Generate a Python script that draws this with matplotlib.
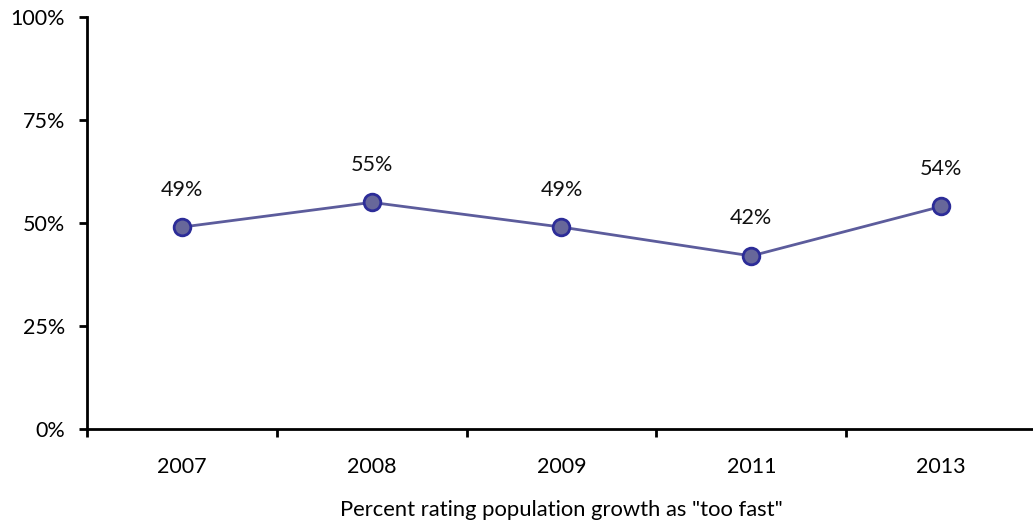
import matplotlib
matplotlib.use('Agg')
import matplotlib.pyplot as plt
import numpy as np

years = ['2007', '2008', '2009', '2011', '2013']
too_fast = [49, 55, 49, 42, 54]
y_ticks = [0, 25, 50, 75, 100]

plt.rcParams['font.family'] = ['Lato', 'DejaVu Sans']
FS = 15.5

fig = plt.figure(figsize=(10.33, 5.25), dpi=100)
ax = fig.add_axes([0.0842, 0.1829, 0.9187, 0.7848])

x = np.arange(len(years))
ax.plot(x, too_fast, color='#5c5c9c', lw=2, marker='o', ms=12,
        mfc='#67679a', mec='#2c2c98', mew=2, zorder=3, clip_on=False)
for xi, v in zip(x, too_fast):
    ax.annotate(f'{v}%', (xi, v), xytext=(0, 27), textcoords='offset points',
                ha='center', va='center', fontsize=FS, color='#111111')

ax.set_xlim(-0.5, len(years) - 0.5)
ax.set_ylim(0, 100)
ax.set_yticks(y_ticks)
ax.set_yticklabels([f'{t}%' for t in y_ticks])
ax.set_xticks(x)
ax.set_xticklabels(years)
ax.set_xticks(np.arange(len(years) + 1) - 0.5, minor=True)
ax.tick_params(axis='x', which='major', length=0, pad=20, labelsize=FS)
ax.tick_params(axis='x', which='minor', length=6, width=2, direction='out')
ax.tick_params(axis='y', length=6, width=2, direction='out', pad=10, labelsize=FS)
ax.set_xlabel('Percent rating population growth as "too fast"', fontsize=15.8, labelpad=17)

for side in ['top', 'right']:
    ax.spines[side].set_visible(False)
for side in ['left', 'bottom']:
    ax.spines[side].set_linewidth(2)

fig.savefig('out.png', dpi=100)
